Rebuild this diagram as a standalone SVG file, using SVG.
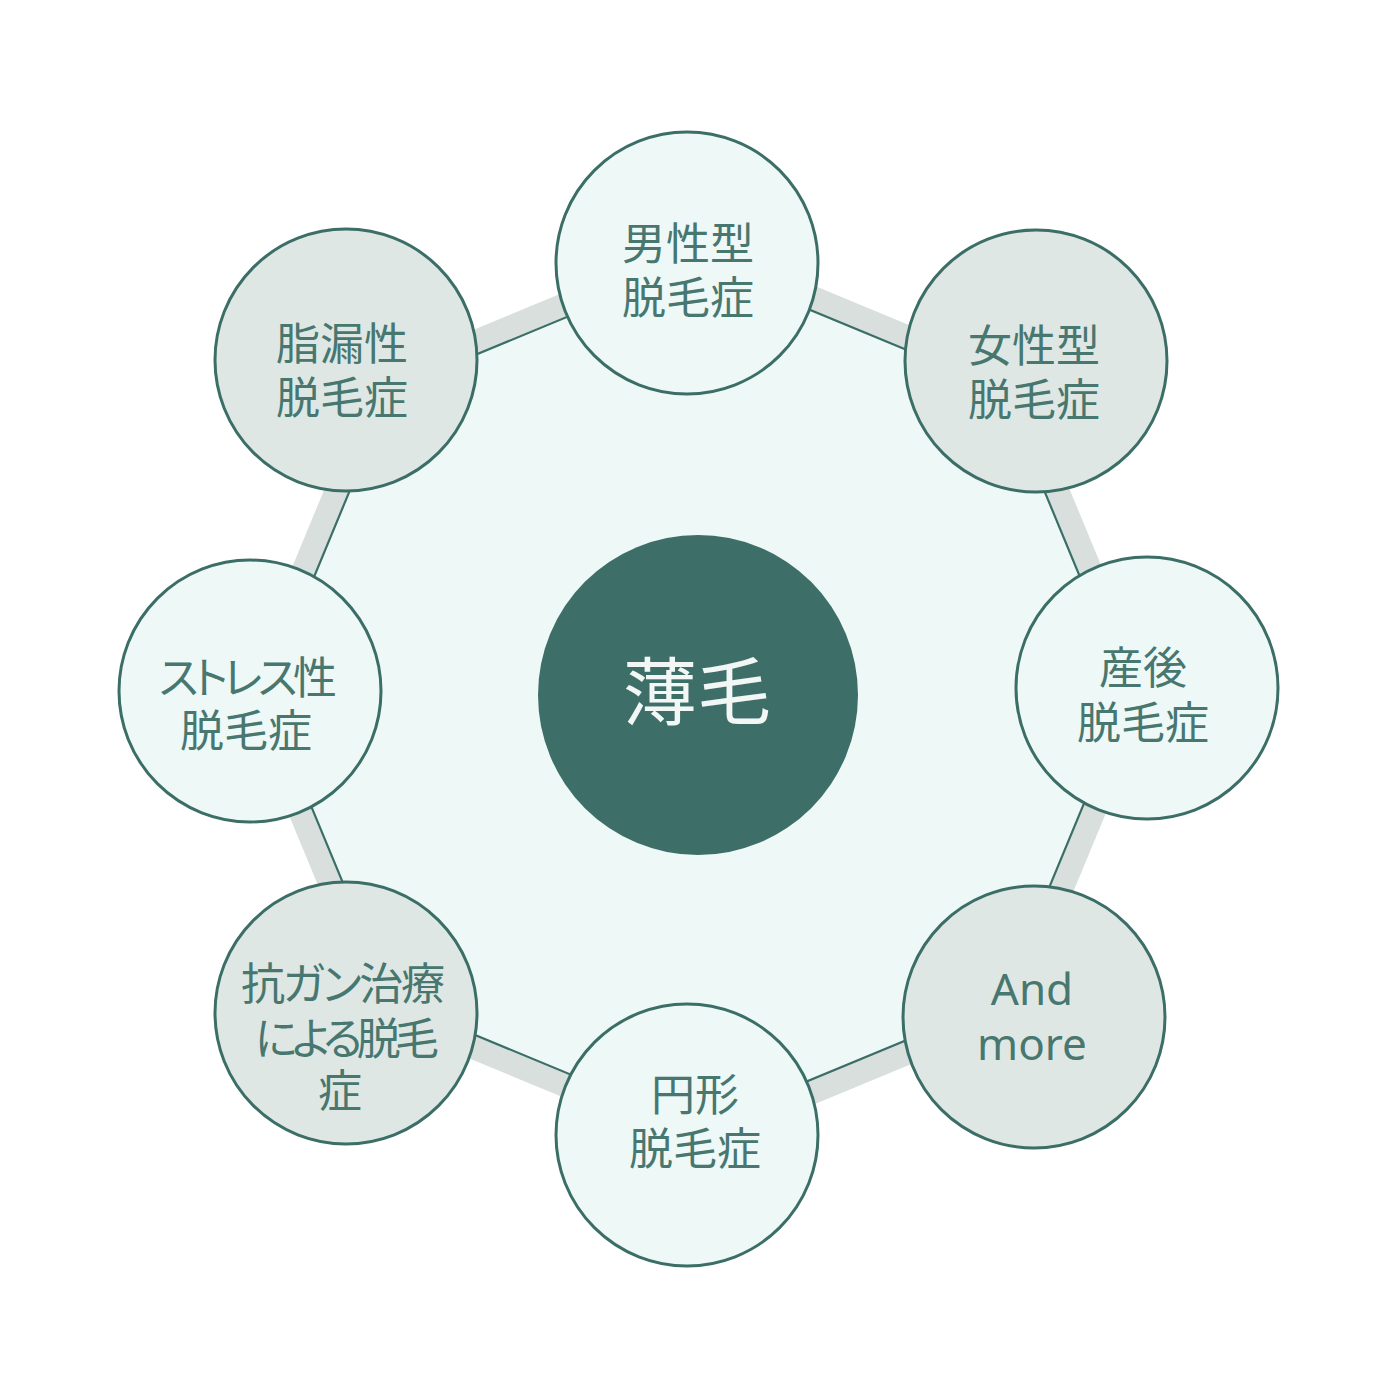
<svg xmlns="http://www.w3.org/2000/svg" width="1400" height="1400" viewBox="0 0 1400 1400">
<style>
.node{stroke:#3b6e66;stroke-width:3}
.mint{fill:#eef8f7}
.gray{fill:#dfe7e5}
.lbl{font-family:"Noto Sans CJK JP","Noto Sans",sans-serif;font-size:44px;fill:#47776f;text-anchor:middle}
.palt{font-feature-settings:"palt"}
.en{font-family:"Noto Sans","Liberation Sans",sans-serif;font-size:44px;fill:#47776f;text-anchor:middle}
</style>
<rect width="1400" height="1400" fill="#ffffff"/>
<g id="connectors">
<polygon points="697,249.6 1011.9,380.1 1142.4,695 1011.9,1009.9 697,1140.4 382.1,1009.9 251.6,695 382.1,380.1" fill="#eef8f7" stroke="#d8dfdd" stroke-width="23"/>
<polygon points="697,263.1 1002.4,389.6 1128.9,695 1002.4,1000.4 697,1126.9 391.6,1000.4 265.1,695 391.6,389.6" fill="none" stroke="#3b6e66" stroke-width="2.2"/>
</g>
<g id="center">
<circle cx="698" cy="695" r="160" fill="#3d6e68"/>
<text x="697" y="719" font-family="Noto Sans CJK JP, Noto Sans, sans-serif" font-size="74" fill="#f2f7f6" text-anchor="middle">薄毛</text>
</g>
<g id="n1">
<circle class="node mint" cx="687" cy="263" r="131"/>
<text class="lbl" x="688" y="260">男性型</text>
<text class="lbl" x="688" y="314">脱毛症</text>
</g>
<g id="n2">
<circle class="node gray" cx="1036" cy="361" r="131"/>
<text class="lbl" x="1034" y="362">女性型</text>
<text class="lbl" x="1034" y="416">脱毛症</text>
</g>
<g id="n3">
<circle class="node mint" cx="1147" cy="688" r="131"/>
<text class="lbl" x="1143" y="684">産後</text>
<text class="lbl" x="1143" y="739">脱毛症</text>
</g>
<g id="n4">
<circle class="node gray" cx="1034" cy="1017" r="131"/>
<text class="en" x="1032" y="1005">And</text>
<text class="en" x="1032" y="1060">more</text>
</g>
<g id="n5">
<circle class="node mint" cx="687" cy="1135" r="131"/>
<text class="lbl" x="695" y="1111">円形</text>
<text class="lbl" x="695" y="1165">脱毛症</text>
</g>
<g id="n6">
<circle class="node gray" cx="346" cy="1013" r="131"/>
<text class="lbl palt" x="343" y="1000" textLength="204" lengthAdjust="spacing">抗ガン治療</text>
<text class="lbl palt" x="347" y="1055" textLength="184" lengthAdjust="spacing">による脱毛</text>
<text class="lbl" x="340" y="1107">症</text>
</g>
<g id="n7">
<circle class="node mint" cx="250" cy="691" r="131"/>
<text class="lbl palt" x="248" y="694" textLength="178" lengthAdjust="spacing">ストレス性</text>
<text class="lbl" x="246" y="747">脱毛症</text>
</g>
<g id="n8">
<circle class="node gray" cx="346" cy="360" r="131"/>
<text class="lbl" x="342" y="360">脂漏性</text>
<text class="lbl" x="342" y="414">脱毛症</text>
</g>
</svg>
